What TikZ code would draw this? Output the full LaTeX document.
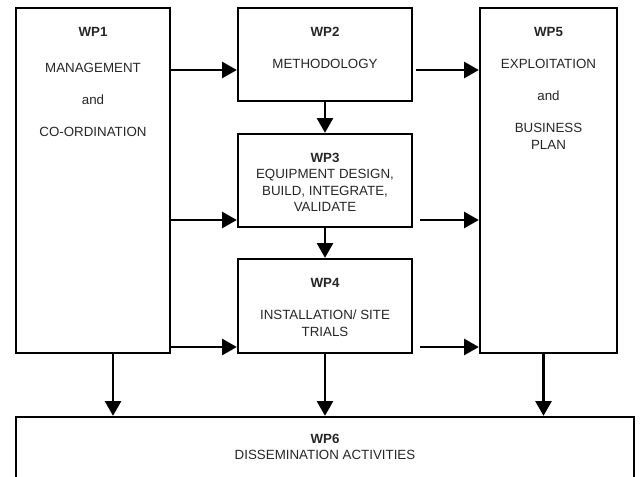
\documentclass[tikz,border=0pt]{standalone}
\usepackage{fontspec}
\setmainfont{Liberation Sans}
\usetikzlibrary{arrows.meta, positioning, calc}

\begin{document}
\begin{tikzpicture}[
    x=0.75pt, y=-0.75pt,
    box/.style={draw, line width=1.8pt, inner sep=0pt},
    lbl/.style={align=center, inner sep=0pt, font=\fontsize{10}{12.4}\selectfont, text=black!85},
    arr/.style={line width=1.8pt, -{Triangle[length=11pt, width=12pt]}}
  ]
  \clip (0,0) rectangle (640,477);

  % work package boxes
  \node[box, minimum width=115.5pt, minimum height=258.75pt] (wp1) at (93,180.5) {};
  \node[box, minimum width=130.5pt, minimum height=69.75pt] (wp2) at (325,54.5) {};
  \node[box, minimum width=130.5pt, minimum height=69.75pt] (wp3) at (325,180.5) {};
  \node[box, minimum width=130.5pt, minimum height=70.5pt] (wp4) at (325,306) {};
  \node[box, minimum width=102.75pt, minimum height=258.75pt] (wp5) at (548.5,180.5) {};
  \node[box, minimum width=463.5pt, minimum height=75pt] (wp6) at (325,467) {};

  % labels
  \node[lbl, below=15.5pt of wp1.north] {\textbf{WP1}\\[14pt] MANAGEMENT\\[11.6pt] and\\[11.6pt] CO-ORDINATION};
  \node[lbl, below=15pt of wp2.north] {\textbf{WP2}\\[11.6pt] METHODOLOGY};
  \node[lbl, below=15pt of wp3.north] {\textbf{WP3}\\ EQUIPMENT DESIGN,\\ BUILD, INTEGRATE,\\ VALIDATE};
  \node[lbl, below=15.5pt of wp4.north] {\textbf{WP4}\\[11.6pt] INSTALLATION/ SITE\\ TRIALS};
  \node[lbl, below=15.5pt of wp5.north] {\textbf{WP5}\\[11.6pt] EXPLOITATION\\[11.6pt] and\\[11.6pt] BUSINESS\\ PLAN};
  \node[lbl, below=13.5pt of wp6.north] {\textbf{WP6}\\ DISSEMINATION ACTIVITIES};

  % connector ends
  \coordinate (in2) at ($(wp2.west)+(0,15.5)$);
  \coordinate (in3) at ($(wp3.west)+(0,39.5)$);
  \coordinate (in4) at ($(wp4.west)+(0,41)$);
  \coordinate (out2) at ($(wp2.east)+(3,15.5)$);
  \coordinate (out3) at ($(wp3.east)+(7,39.5)$);
  \coordinate (out4) at ($(wp4.east)+(7,41)$);
  \coordinate (down1) at ($(wp1.south)+(20,0)$);
  \coordinate (down5) at ($(wp5.south)+(-5,0)$);

  \draw[arr] (wp1.east |- in2) -- (in2);
  \draw[arr] (wp1.east |- in3) -- (in3);
  \draw[arr] (wp1.east |- in4) -- (in4);
  \draw[arr] (out2) -- (wp5.west |- out2);
  \draw[arr] (out3) -- (wp5.west |- out3);
  \draw[arr] (out4) -- (wp5.west |- out4);
  \draw[arr] (wp2.south) -- (wp3.north);
  \draw[arr] (wp3.south) -- (wp4.north);
  \draw[arr] (down1) -- (down1 |- wp6.north);
  \draw[arr] (wp4.south) -- (wp4.south |- wp6.north);
  \draw[arr] (down5) -- (down5 |- wp6.north);
\end{tikzpicture}
\end{document}
